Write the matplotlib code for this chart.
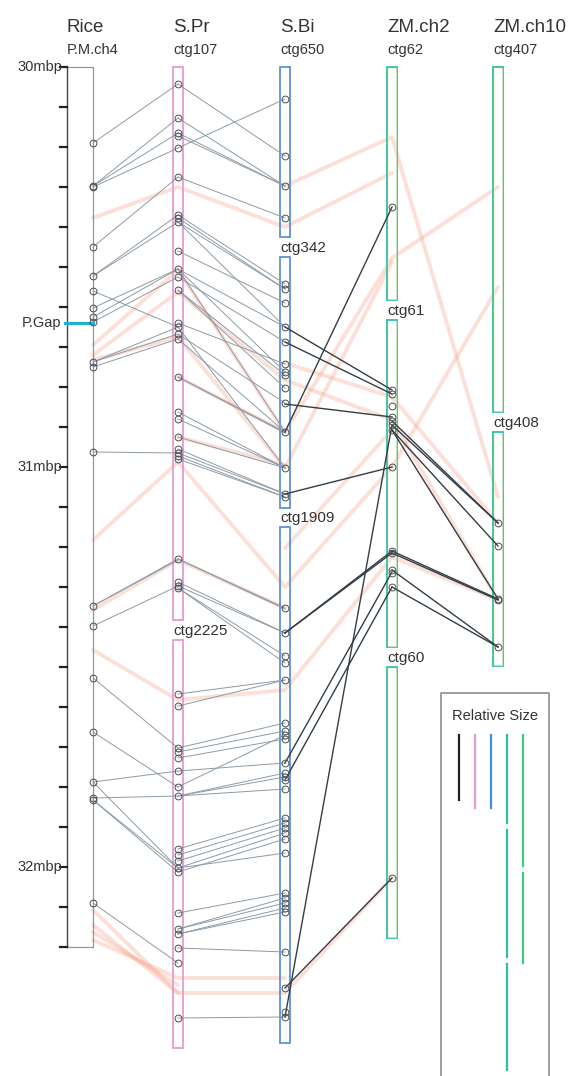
import matplotlib
matplotlib.use("Agg")
import matplotlib.pyplot as plt
from matplotlib.patches import Rectangle

plt.rcParams["font.family"] = ["Liberation Sans", "DejaVu Sans"]

# ---------------------------------------------------------------------------
# data (vertical positions, in layout rows from the top)
# ---------------------------------------------------------------------------
track_names = ["Rice", "S.Pr", "S.Bi", "ZM.ch2", "ZM.ch10"]
track_subs = ["P.M.ch4", "ctg107", "ctg650", "ctg62", "ctg407"]

# rice ruler: 30 - 32.2 mbp, one tick per 0.1 mbp
rice_start_mbp = 30.0
rice_end_mbp = 32.2
rice_labels = ["30mbp", "31mbp", "32mbp"]
rice_gap_mbp = 30.64

# contigs per track: (name, top, bottom); first name is shown under the header
spr_contigs = [("ctg107", 67, 620), ("ctg2225", 640, 1048)]
sbi_contigs = [("ctg650", 67, 237), ("ctg342", 257, 508), ("ctg1909", 527, 1043)]
zm2_contigs = [("ctg62", 67, 300), ("ctg61", 320, 647), ("ctg60", 667, 938)]
zm10_contigs = [("ctg407", 67, 412), ("ctg408", 432, 666)]

rice_marks = [143, 186, 187, 247, 276, 291, 308, 317, 322, 362, 367, 452,
              606, 626, 678, 732, 782, 798, 800, 903]
spr_marks = [84, 118, 133, 136, 148, 177, 215, 218, 222, 251, 269, 277, 290,
             323, 327, 334, 339, 377, 412, 419, 437, 449, 453, 456, 459,
             559, 582, 586, 588, 694, 706, 748, 752, 758, 771, 787, 796,
             849, 855, 861, 868, 872, 913, 929, 934, 948, 963, 1018]
sbi_marks = [99, 156, 186, 218, 284, 289, 303, 327, 342, 364, 372, 375, 388,
             403, 432, 468, 494, 497, 608, 633, 656, 663, 680, 723, 731, 735,
             739, 763, 773, 777, 780, 789, 818, 823, 828, 833, 839, 853, 893,
             898, 903, 908, 912, 952, 988, 1012, 1017]
zm2_marks = [207, 390, 394, 406, 417, 421, 425, 430, 467, 551, 553, 570, 573,
             587, 878]
zm10_marks = [523, 546, 599, 600, 647]

rice_spr_links = [(143, 84), (186, 118), (186, 133), (187, 148), (247, 177),
                  (276, 215), (276, 222), (291, 327), (308, 269), (317, 269),
                  (322, 277), (362, 327), (362, 334), (367, 339), (452, 453),
                  (606, 559), (606, 560), (626, 586), (678, 748), (732, 787),
                  (782, 771), (782, 868), (798, 796), (800, 868), (800, 872),
                  (903, 963)]
spr_sbi_links = [(84, 156), (118, 186), (133, 186), (136, 186), (148, 99),
                 (177, 218), (215, 284), (218, 289), (222, 289), (222, 327),
                 (251, 303), (269, 327), (269, 372), (269, 432), (277, 342),
                 (290, 375), (290, 388), (323, 364), (327, 468), (334, 403),
                 (339, 432), (377, 432), (377, 433), (412, 468), (419, 468),
                 (437, 468), (449, 494), (453, 494), (456, 497), (459, 497),
                 (559, 608), (559, 609), (582, 633), (586, 633), (588, 656),
                 (588, 663), (694, 680), (706, 680), (748, 723), (752, 731),
                 (758, 739), (771, 763), (787, 735), (796, 773), (796, 777),
                 (796, 789), (849, 818), (855, 823), (861, 828), (868, 833),
                 (872, 839), (868, 853), (913, 893), (929, 898), (929, 903),
                 (934, 908), (934, 912), (948, 952), (1018, 1017)]
sbi_zm2_links = [(327, 390), (342, 394), (404, 417), (432, 207), (494, 467),
                 (633, 551), (633, 553), (763, 572), (780, 587), (988, 878),
                 (1017, 425)]
zm2_zm10_links = [(421, 523), (425, 523), (430, 546), (430, 599), (551, 599),
                  (553, 600), (570, 647), (587, 647)]

# background synteny blocks: (first track index, positions on consecutive tracks)
blocks = [
    (0, [218, 187, 227, 173]),
    (2, [186, 137, 497]),
    (0, [345, 270, 432, 258, 187]),
    (0, [360, 337, 468, 262]),
    (1, [377, 432]),
    (1, [437, 465]),
    (0, [355, 292, 380, 420, 600]),
    (2, [363, 397, 523]),
    (0, [540, 462, 587, 467, 287]),
    (2, [548, 430]),
    (0, [650, 700, 690, 557, 600]),
    (0, [610, 560, 608]),
    (0, [910, 993, 993, 878]),
    (0, [925, 993]),
    (0, [940, 978, 978]),
    (0, [932, 985]),
]

# legend: relative contig sizes (segment lengths) per track
legend_sizes = [[65], [73], [73], [88, 127, 106], [131, 90]]

# ---------------------------------------------------------------------------
# layout / style
# ---------------------------------------------------------------------------
W, H = 579, 1076
track_x = [93, 178, 285, 392, 498]
box_w = 10
px_per_mbp = 400
ruler_x = 67
ruler_top = 67

box_colors = [None, "#e79ad2", "#5a92dc", "#33bfae", "#33bfae"]
orange = "#f6a287"
light_link = "#8c9ba6"
dark_link = "#323d46"
text_col = "#333333"


def rice_y(mbp):
    return ruler_top + (mbp - rice_start_mbp) * px_per_mbp


fig = plt.figure(figsize=(W / 100, H / 100), dpi=100)
ax = fig.add_axes([0, 0, 1, 1])
ax.set_xlim(0, W)
ax.set_ylim(H, 0)
ax.axis("off")

# background synteny blocks
for start, ys in blocks:
    xs = track_x[start:start + len(ys)]
    ax.plot(xs, ys, color=orange, lw=2.8, alpha=0.33, solid_capstyle="round",
            zorder=1)

# rice ruler and box
r_bot = rice_y(rice_end_mbp)
ax.plot([ruler_x, ruler_x], [ruler_top, r_bot], color="#3b4a55", lw=1.0, zorder=3)
ax.plot([ruler_x, track_x[0], track_x[0], ruler_x],
        [ruler_top, ruler_top, r_bot, r_bot], color="#8a98a2", lw=0.9, zorder=3)
n_ticks = int(round((rice_end_mbp - rice_start_mbp) * 10)) + 1
for i in range(n_ticks):
    y = rice_y(rice_start_mbp + i * 0.1)
    ax.plot([ruler_x - 7, ruler_x], [y, y], color="#222", lw=1.6, zorder=3)
for i, lab in enumerate(rice_labels):
    ax.text(ruler_x - 5, rice_y(rice_start_mbp + i), lab, ha="right",
            va="center", fontsize=10.5, color=text_col)
gy = rice_y(rice_gap_mbp)
ax.plot([ruler_x - 2, track_x[0]], [gy, gy], color="#1fb0d0", lw=2.2, zorder=4)
ax.text(ruler_x - 6, gy, "P.Gap", ha="right", va="center", fontsize=10.5,
        color=text_col)

# contig boxes
for ti, contigs in zip([1, 2, 3, 4], [spr_contigs, sbi_contigs, zm2_contigs,
                                      zm10_contigs]):
    x0 = track_x[ti] - box_w / 2
    for ci, (name, top, bot) in enumerate(contigs):
        ax.add_patch(Rectangle((x0, top), box_w, bot - top, fill=False,
                               edgecolor=box_colors[ti], lw=1.3, zorder=2))
        if ti >= 3:
            ax.add_patch(Rectangle((x0 + 1.3, top + 1.3), box_w - 2.6,
                                   bot - top - 2.6, fill=False,
                                   edgecolor="#f7f3c4", lw=0.5, zorder=2))
        if ci > 0:
            ax.text(x0, top - 9, name, ha="left", va="center", fontsize=11,
                    color=text_col)

# headers
for ti in range(5):
    x0 = ruler_x if ti == 0 else track_x[ti] - box_w / 2
    ax.text(x0, 27, track_names[ti], ha="left", va="center", fontsize=13.5,
            color=text_col)
    ax.text(x0, 50, track_subs[ti], ha="left", va="center", fontsize=10.5,
            color=text_col)

# links
for a, b in rice_spr_links:
    ax.plot([track_x[0], track_x[1]], [a, b], color=light_link, lw=0.7, zorder=4)
for a, b in spr_sbi_links:
    ax.plot([track_x[1], track_x[2]], [a, b], color=light_link, lw=0.7, zorder=4)
for a, b in sbi_zm2_links:
    ax.plot([track_x[2], track_x[3]], [a, b], color=dark_link, lw=1.0, zorder=4)
for a, b in zm2_zm10_links:
    ax.plot([track_x[3], track_x[4]], [a, b], color=dark_link, lw=1.0, zorder=4)

# markers
for ti, marks in enumerate([rice_marks, spr_marks, sbi_marks, zm2_marks,
                            zm10_marks]):
    ax.plot([track_x[ti]] * len(marks), marks, "o", mfc="none", mec="#4a4f55",
            ms=4.9, mew=0.7, zorder=5)

# legend box
lx0, lx1, ly0 = 441, 549, 693
ax.plot([lx0, lx0, lx1, lx1], [H + 5, ly0, ly0, H + 5], color="#8f8f8f",
        lw=1.2, zorder=3)
ax.text((lx0 + lx1) / 2, 716, "Relative Size", ha="center", va="center",
        fontsize=10.5, color=text_col)
leg_x = [459, 475, 491, 507, 523]
leg_colors = ["#222222", "#e79ad2", "#3f8fe0", "#2fbfa0", "#3ccf7a"]
leg_top, leg_gap = 735, 7
for x, segs, c in zip(leg_x, legend_sizes, leg_colors):
    y = leg_top
    for s in segs:
        ax.plot([x, x], [y, y + s], color=c, lw=1.6, zorder=3)
        y += s + leg_gap

fig.savefig("out.png", dpi=100)
